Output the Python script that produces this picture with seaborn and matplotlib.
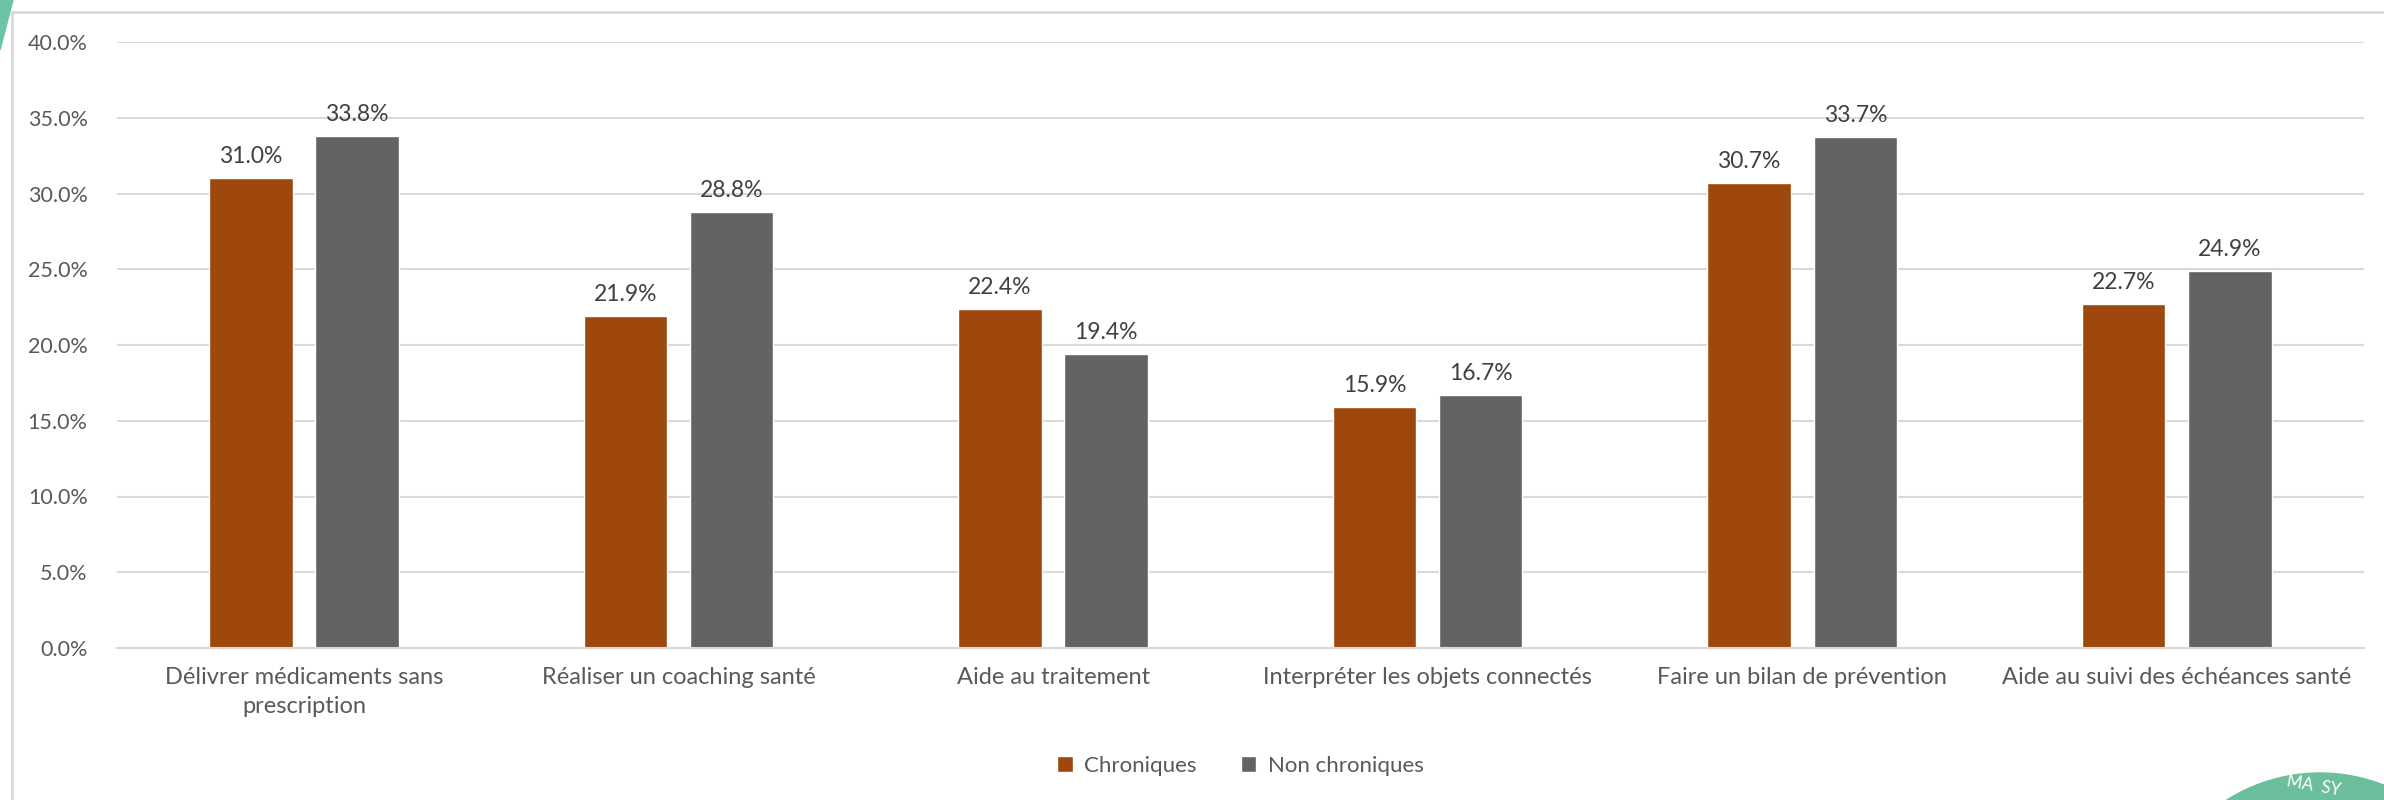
import matplotlib
matplotlib.use("Agg")
import matplotlib.pyplot as plt
import matplotlib.patches as mpatches
import pandas as pd
import seaborn as sns

categories = [
    "Délivrer médicaments sans\nprescription",
    "Réaliser un coaching santé",
    "Aide au traitement",
    "Interpréter les objets connectés",
    "Faire un bilan de prévention",
    "Aide au suivi des échéances santé",
]
chroniques = [31.0, 21.9, 22.4, 15.9, 30.7, 22.7]
non_chroniques = [33.8, 28.8, 19.4, 16.7, 33.7, 24.9]
series = ["Chroniques", "Non chroniques"]
colors = ["#9E480E", "#636363"]
y_ticks = [0, 5, 10, 15, 20, 25, 30, 35, 40]

df = pd.DataFrame({
    "categorie": categories * 2,
    "groupe": [series[0]] * len(categories) + [series[1]] * len(categories),
    "valeur": chroniques + non_chroniques,
})

sns.set_style("white")
plt.rcParams["font.family"] = ["Lato", "DejaVu Sans"]
text_col = "#595959"

fig = plt.figure(figsize=(23.84, 8), dpi=100)
ax = fig.add_axes([0.049, 0.19, 0.9426, 0.7575])

sns.barplot(data=df, x="categorie", y="valeur", hue="groupe", palette=colors,
            width=0.567, gap=0.214, saturation=1, ax=ax, legend=True)

for cont in ax.containers:
    ax.bar_label(cont, labels=[f"{v:.1f}%" for v in cont.datavalues],
                 padding=8, fontsize=16.5, color="#404040")

ax.set_ylim(0, 40)
ax.set_yticks(y_ticks)
ax.set_yticklabels([f"{t:.1f}%" for t in y_ticks])
ax.yaxis.grid(True, color="#D9D9D9", linewidth=1.5)
ax.set_axisbelow(True)
for s in ["top", "right", "left"]:
    ax.spines[s].set_visible(False)
ax.spines["bottom"].set_color("#D9D9D9")
ax.spines["bottom"].set_linewidth(1.5)
ax.tick_params(axis="both", length=0, labelcolor=text_col)
ax.tick_params(axis="x", pad=14, labelsize=17)
ax.tick_params(axis="y", pad=21, labelsize=15.5)
for lbl in ax.get_xticklabels():
    lbl.set_linespacing(1.45)
ax.set_xlabel("")
ax.set_ylabel("")

ax.legend(loc="upper center", bbox_to_anchor=(0.5, -0.145), ncol=2, frameon=False,
          fontsize=16, labelcolor=text_col, handlelength=0.7, handleheight=0.7,
          columnspacing=2.0, handletextpad=0.5)

# chart frame and slide decorations
fig.patches.append(mpatches.Rectangle((12 / 2384, -0.2), 1.2, 1.2 - 12 / 800,
                                      transform=fig.transFigure, fill=False,
                                      edgecolor="#D9D9D9", linewidth=2, zorder=0))
fig.patches.append(mpatches.Polygon([(0, 1), (13 / 2384, 1), (0, 1 - 50 / 800)],
                                    closed=True, transform=fig.transFigure,
                                    color="#6CC4A4", zorder=5))
fig.patches.append(mpatches.Ellipse((2320 / 2384, -147 / 800), 348 / 2384, 348 / 800,
                                    transform=fig.transFigure, color="#6CBF9C", zorder=5))
fig.text(2285 / 2384, 2 / 800, "MA  SY", transform=fig.transFigure,
         color="white", fontsize=12, rotation=-10, va="bottom", zorder=6)

fig.savefig("out.png", dpi=100)
